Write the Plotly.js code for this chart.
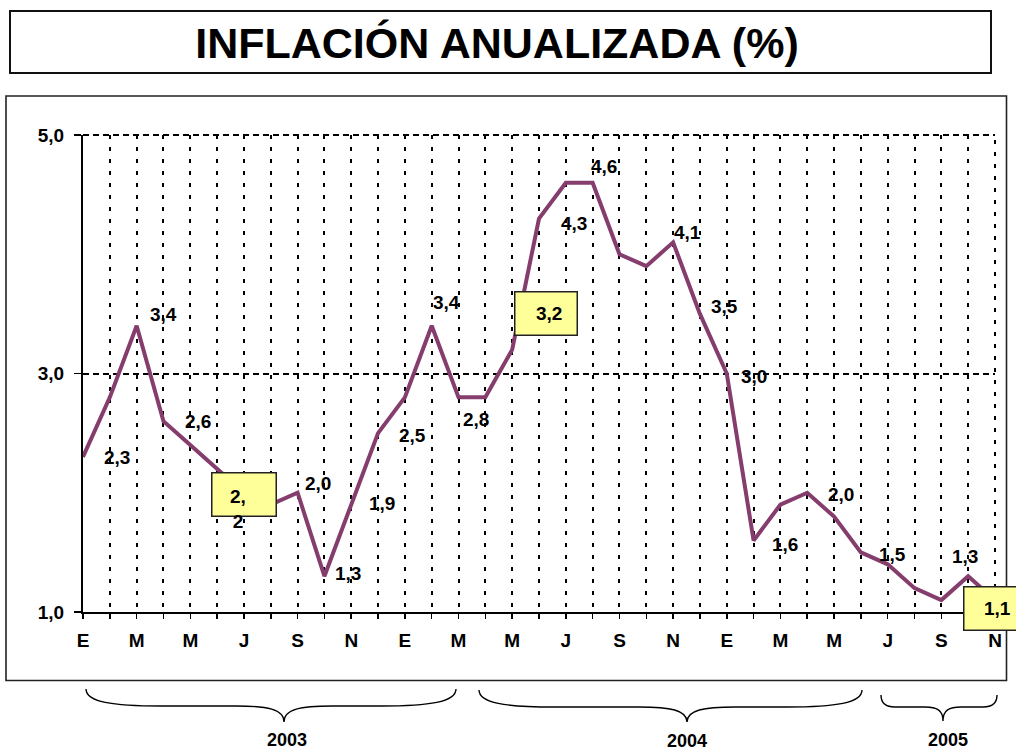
<!DOCTYPE html>
<html>
<head>
<meta charset="utf-8">
<script src="https://cdn.plot.ly/plotly-3.0.1.min.js"></script>
<style>
  html, body { margin: 0; padding: 0; background: #fff; }
  #chart { width: 1016px; height: 751px; }
</style>
</head>
<body>
<div id="chart"></div>
<script>
// Datos: inflación anualizada mensual, ene-2003 a nov-2005
const monthInitials = ['E', 'F', 'M', 'A', 'M', 'J', 'J', 'A', 'S', 'O', 'N', 'D'];
const years = ['2003', '2004', '2005'];
const inflation = [
    2.3, 2.8, 3.4, 2.6, 2.4, 2.2, 2.0, 1.9, 2.0, 1.3, 1.9, 2.5,
    2.8, 3.4, 2.8, 2.8, 3.2, 4.3, 4.6, 4.6, 4.0, 3.9, 4.1, 3.5,
    3.0, 1.6, 1.9, 2.0, 1.8, 1.5, 1.4, 1.2, 1.1, 1.3, 1.1
];
const yTicks = [1, 3, 5];

// puntos con etiqueta simple y con recuadro amarillo
const labelIdx = [0, 2, 3, 8, 9, 10, 11, 13, 14, 17, 19, 22, 23, 24, 25, 27, 29, 33];
const boxedIdx = [5, 16, 34];

// desplazamientos (px) de cada etiqueta respecto de su punto
const labelShift = [
    [34, -1], [27, 11], [35, 0], [20, 9], [24, 3], [31, 1], [34, -2], [15, 23], [17, -22],
    [35, -5], [11, 16], [14, 10], [25, 7], [27, -3], [31, -4], [34, -2], [32, -2], [-3, 20]
];
// recuadros: [dx, dy, ancho, alto, dx texto, dy texto]
const boxShift = [
    [27, -26, 64, 43, 21, -40],
    [34, 36, 62, 43, 37, 36],
    [0, -8, 62, 43, 2, -8]
];

const W = 1016, H = 751;
const M = {l: 83, r: 21, t: 135, b: 139};
const PW = W - M.l - M.r, PH = H - M.t - M.b;
function px(x) { return (x - M.l) / PW; }
function py(y) { return (H - M.b - y) / PH; }
function fmt(v) { return v.toFixed(1).replace('.', ','); }

const FONT = 'Liberation Sans, Arial, sans-serif';

let xIdx = [];
let tickText = [];
for (let i = 0; i < inflation.length; i++) {
    xIdx.push(i);
    tickText.push(i % 2 === 0 ? monthInitials[i % 12] : '');
}

let annotations = [];

labelIdx.forEach(function (i, k) {
    annotations.push({
        x: i, y: inflation[i], xref: 'x', yref: 'y',
        text: fmt(inflation[i]), showarrow: false,
        xshift: labelShift[k][0], yshift: labelShift[k][1],
        font: {family: FONT, size: 19, color: '#000', weight: 'bold'}
    });
});

boxedIdx.forEach(function (i, k) {
    let b = boxShift[k];
    annotations.push({
        x: i, y: inflation[i], xref: 'x', yref: 'y',
        text: ' ', showarrow: false,
        xshift: b[0], yshift: b[1], width: b[2] - 1.5, height: b[3] - 1.5,
        bgcolor: '#ffff99', bordercolor: '#222', borderwidth: 1.5, borderpad: 0
    });
    // la primera etiqueta se parte en dos líneas, como en el original
    let t = fmt(inflation[i]);
    if (k === 0) t = t.replace(',', ',<br>');
    annotations.push({
        x: i, y: inflation[i], xref: 'x', yref: 'y',
        text: t, showarrow: false, align: 'center',
        xshift: b[4], yshift: b[5],
        font: {family: FONT, size: 19, color: '#000', weight: 'bold'}
    });
});

// llaves de los años
const braces = [
    {x0: 86, x1: 456, xm: 284, top: 689, flat: 706, tip: 722, hook: 75, mid: 48, lx: 287, ly: 740},
    {x0: 479, x1: 862, xm: 687, top: 690, flat: 707, tip: 722, hook: 75, mid: 48, lx: 687, ly: 741},
    {x0: 881, x1: 997, xm: 943, top: 695, flat: 707, tip: 721, hook: 14, mid: 18, lx: 948, ly: 740}
];

function bracePath(b) {
    const P = (x, y) => px(x).toFixed(5) + ',' + py(y).toFixed(5);
    return 'M' + P(b.x0, b.top) +
        ' C' + P(b.x0, b.flat - 4) + ' ' + P(b.x0 + b.hook * 0.35, b.flat) + ' ' + P(b.x0 + b.hook, b.flat) +
        ' L' + P(b.xm - b.mid, b.flat) +
        ' C' + P(b.xm - b.mid * 0.35, b.flat) + ' ' + P(b.xm, b.flat + 3) + ' ' + P(b.xm, b.tip) +
        ' C' + P(b.xm, b.flat + 3) + ' ' + P(b.xm + b.mid * 0.35, b.flat) + ' ' + P(b.xm + b.mid, b.flat) +
        ' L' + P(b.x1 - b.hook, b.flat) +
        ' C' + P(b.x1 - b.hook * 0.35, b.flat) + ' ' + P(b.x1, b.flat - 4) + ' ' + P(b.x1, b.top);
}

let shapes = [
    // marco del título
    {type: 'rect', xref: 'paper', yref: 'paper', x0: px(10), x1: px(991), y0: py(73), y1: py(11),
        line: {color: '#111', width: 2}},
    // marco del gráfico
    {type: 'rect', xref: 'paper', yref: 'paper', x0: px(6), x1: px(1006.5), y0: py(680.5), y1: py(96),
        line: {color: '#222', width: 1.6}},
    // rejilla en los bordes superior y derecho (Plotly no la dibuja en el límite)
    {type: 'line', xref: 'paper', yref: 'paper', x0: 0, x1: 1, y0: 1, y1: 1, layer: 'below',
        line: {color: '#000', width: 2, dash: '6px,4px'}},
    {type: 'line', xref: 'paper', yref: 'paper', x0: 1, x1: 1, y0: 0, y1: 1, layer: 'below',
        line: {color: '#000', width: 2, dash: '4px,8px'}}
];

braces.forEach(function (b, k) {
    shapes.push({type: 'path', xref: 'paper', yref: 'paper', path: bracePath(b),
        line: {color: '#000', width: 1.4}});
    annotations.push({
        x: px(b.lx), y: py(b.ly), xref: 'paper', yref: 'paper',
        text: years[k], showarrow: false, xanchor: 'center', yanchor: 'middle',
        font: {family: FONT, size: 18, color: '#000', weight: 'bold'}
    });
});

const trace = {
    x: xIdx,
    y: inflation,
    mode: 'lines',
    type: 'scatter',
    line: {color: '#853d6d', width: 4},
    hoverinfo: 'skip'
};

const layout = {
    width: W,
    height: H,
    margin: M,
    paper_bgcolor: '#fff',
    plot_bgcolor: '#fff',
    showlegend: false,
    separators: ',.',
    font: {family: FONT, color: '#000'},
    title: {
        text: 'INFLACIÓN ANUALIZADA (%)',
        font: {family: FONT, size: 43, color: '#000', weight: 'bold'},
        xref: 'container', yref: 'container',
        x: 497 / W, xanchor: 'center',
        y: 1 - 43 / H, yanchor: 'middle'
    },
    xaxis: {
        range: [0, inflation.length - 1],
        tickmode: 'array',
        tickvals: xIdx,
        ticktext: tickText,
        ticks: 'outside', ticklen: 5, tickwidth: 1.5, tickcolor: '#000',
        ticklabelstandoff: 5,
        showline: true, linecolor: '#000', linewidth: 2,
        showgrid: true, gridcolor: '#000', gridwidth: 2, griddash: '4px,8px',
        zeroline: false,
        tickangle: 0,
        tickfont: {family: FONT, size: 19, color: '#000', weight: 'bold'},
        fixedrange: true
    },
    yaxis: {
        range: [1, 5],
        tickmode: 'array',
        tickvals: yTicks,
        tickformat: '.1f',
        ticks: 'outside', ticklen: 7, tickwidth: 1.5, tickcolor: '#000',
        ticklabelstandoff: 6,
        showline: true, linecolor: '#000', linewidth: 2,
        showgrid: true, gridcolor: '#000', gridwidth: 2, griddash: '6px,4px',
        zeroline: false,
        tickfont: {family: FONT, size: 19, color: '#000', weight: 'bold'},
        fixedrange: true
    },
    shapes: shapes,
    annotations: annotations
};

Plotly.newPlot('chart', [trace], layout, {staticPlot: true, displayModeBar: false});
</script>
</body>
</html>
